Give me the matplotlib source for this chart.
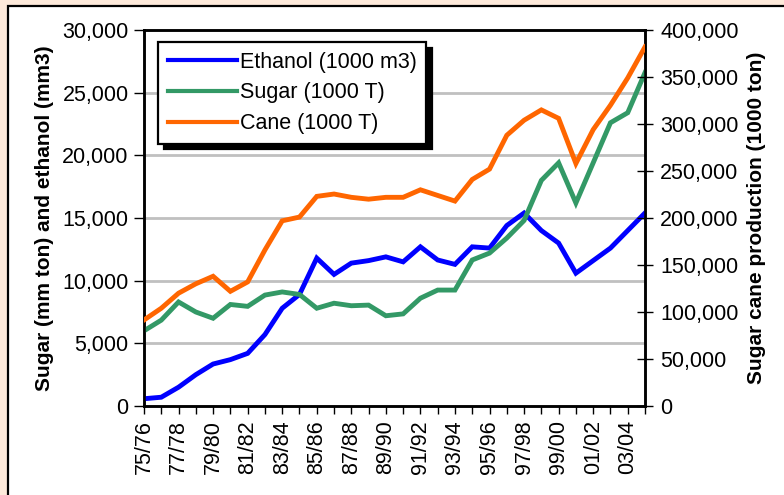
import matplotlib
matplotlib.use('Agg')
import matplotlib.pyplot as plt
from matplotlib.patches import Rectangle
from matplotlib.ticker import FuncFormatter, MultipleLocator

# seasons 75/76 .. 04/05
seasons = ['%02d/%02d' % (y % 100, (y + 1) % 100) for y in range(1975, 2005)]

ethanol = [580, 700, 1500, 2500, 3350, 3700, 4200, 5700, 7800, 8900,
           11800, 10500, 11400, 11600, 11900, 11500, 12700, 11650, 11300, 12700,
           12600, 14400, 15400, 14000, 13000, 10600, 11600, 12600, 14000, 15400]
sugar = [6000, 6850, 8300, 7500, 7000, 8100, 7950, 8850, 9100, 8900,
         7800, 8200, 8000, 8050, 7200, 7350, 8600, 9250, 9250, 11650,
         12200, 13400, 14800, 18000, 19400, 16200, 19400, 22600, 23400, 26600]
cane = [91500, 104000, 120000, 130000, 138000, 122000, 132000, 166000, 197000, 201000,
        223000, 225500, 222000, 220000, 222000, 222000, 230000, 224000, 218000, 241000,
        252000, 288000, 304000, 315000, 306000, 258000, 294000, 320000, 349000, 382000]

BLUE = '#0000FF'
GREEN = '#339966'
ORANGE = '#FF6600'
CREAM = '#FDE9DA'

plt.rcParams['font.family'] = ['Liberation Sans', 'DejaVu Sans']

fig = plt.figure(figsize=(7.84, 4.95), dpi=100, facecolor=CREAM)
# white panel with black border (cropped at right/bottom)
fig.patches.append(Rectangle((8 / 784, -0.1), 1.2, 1.1 - 6 / 495,
                             transform=fig.transFigure, facecolor='white',
                             edgecolor='black', lw=1.6, zorder=-1))

ax = fig.add_axes([144 / 784, 1 - 406 / 495, 501 / 784, 376 / 495])
ax2 = ax.twinx()

x = list(range(len(seasons)))
l1, = ax.plot(x, ethanol, color=BLUE, lw=3.5, solid_joinstyle='miter', zorder=3)
l2, = ax.plot(x, sugar, color=GREEN, lw=3.5, solid_joinstyle='miter', zorder=3)
l3, = ax2.plot(x, cane, color=ORANGE, lw=3.5, solid_joinstyle='miter', zorder=3)

ax.set_xlim(0, len(seasons) - 1)
ax.set_ylim(0, 30000)
ax2.set_ylim(0, 400000)
ax.yaxis.set_major_locator(MultipleLocator(5000))
ax2.yaxis.set_major_locator(MultipleLocator(50000))
fmt = FuncFormatter(lambda v, p: '{:,.0f}'.format(v))
ax.yaxis.set_major_formatter(fmt)
ax2.yaxis.set_major_formatter(fmt)

ax.set_xticks(x)
ax.set_xticklabels([s if i % 2 == 0 else '' for i, s in enumerate(seasons)],
                   rotation=90, fontsize=15.5)
ax.tick_params(axis='x', direction='out', length=6, width=1, pad=4)
ax.tick_params(axis='y', direction='out', length=7, width=1, labelsize=15.5, pad=4)
ax2.tick_params(axis='y', direction='inout', length=12, width=1, labelsize=15.5, pad=5)

for g in range(5000, 30000, 5000):
    ax.axhline(g, color='#C0C0C0', lw=2, zorder=1)

for a in (ax, ax2):
    for s in a.spines.values():
        s.set_linewidth(1.8)

ax.set_ylabel('Sugar (mm ton) and ethanol (mm3)', fontsize=15, fontweight='bold', labelpad=6)
ax2.set_ylabel('Sugar cane production (1000 ton)', fontsize=15, fontweight='bold', labelpad=6)

leg = ax2.legend([l1, l2, l3], ['Ethanol (1000 m3)', 'Sugar (1000 T)', 'Cane (1000 T)'],
                 loc='upper left', bbox_to_anchor=(0.028, 0.968), borderaxespad=0,
                 fontsize=15.5, handlelength=3.2, handletextpad=0.15, labelspacing=0.45,
                 fancybox=False, framealpha=1, edgecolor='black',
                 borderpad=0.45,
                 shadow={'ox': 4, 'oy': -4, 'color': 'black', 'alpha': 1})
leg.get_frame().set_linewidth(1.6)
for h in leg.get_lines():
    h.set_linewidth(3)

fig.savefig('out.png', dpi=100, facecolor=CREAM)
